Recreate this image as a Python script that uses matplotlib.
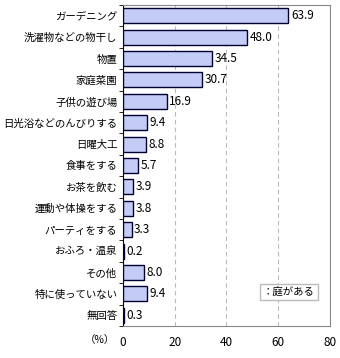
import matplotlib.pyplot as plt
import numpy as np

plt.rcParams['font.family'] = ['Noto Sans CJK JP', 'DejaVu Sans']

# Data
categories = ["ガーデニング", "洗濯物などの物干し", "物置", "家庭菜園", "子供の遊び場",
              "日光浴などのんびりする", "日曜大工", "食事をする", "お茶を飲む",
              "運動や体操をする", "パーティをする", "おふろ・温泉", "その他",
              "特に使っていない", "無回答"]
values = [63.9, 48.0, 34.5, 30.7, 16.9, 9.4, 8.8, 5.7, 3.9, 3.8, 3.3, 0.2, 8.0, 9.4, 0.3]
xticks = [0, 20, 40, 60, 80]

fig = plt.figure(figsize=(3.4, 3.58), dpi=100)
ax = fig.add_axes([123 / 340, 1 - 326 / 358, 207 / 340, 321 / 358])

y = np.arange(len(categories))
ax.barh(y, values, height=0.7, color="#c3ccf4", edgecolor="#000033", linewidth=1, zorder=3)
for yi, v in zip(y, values):
    ax.text(v + 1.0, yi, f"{v:.1f}", va="center", ha="left", fontsize=8.5, zorder=4)

ax.set_xlim(0, 80)
ax.set_ylim(len(categories) - 0.5, -0.5)
ax.set_yticks(y)
ax.set_yticklabels(categories, fontsize=7.5)
ax.tick_params(axis="y", length=0, pad=4)
ax.set_yticks(np.arange(len(categories) + 1) - 0.5, minor=True)
ax.tick_params(axis="y", which="minor", length=3, color="black")

ax.set_xticks(xticks)
ax.set_xticklabels([str(t) for t in xticks], fontsize=8.5)
ax.tick_params(axis="x", length=0, pad=7)
ax.xaxis.grid(True, linestyle=(0, (4, 3)), color="#bbbbbb", linewidth=0.8)

for s in ["top", "right", "bottom"]:
    ax.spines[s].set_color("#888888")
ax.spines["left"].set_color("black")

fig.text(100 / 340, 1 - 340 / 358, "（%）", fontsize=7.5, ha="center", va="center")
ax.text(0.80, 0.106, "：庭がある", transform=ax.transAxes, fontsize=7.5, ha="center", va="center",
        bbox=dict(boxstyle="square,pad=0.3", facecolor="white", edgecolor="#bbbbbb"), zorder=5)

fig.savefig("out.png", dpi=100)
